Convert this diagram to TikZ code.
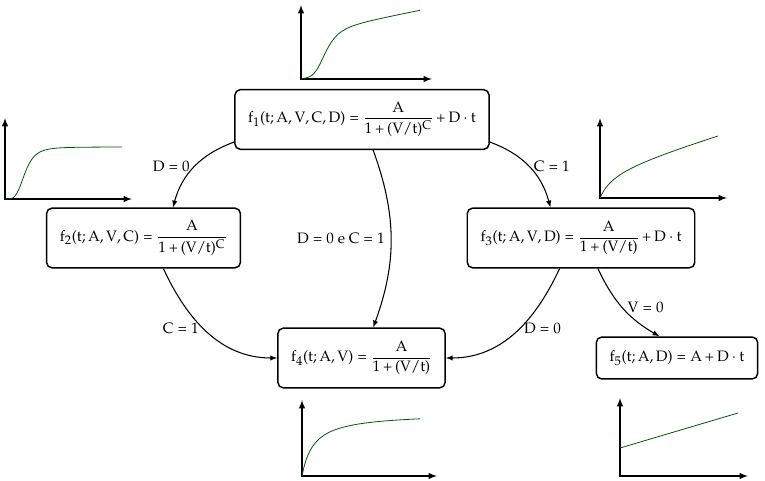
\documentclass[tikz,border=0pt]{standalone}
\usepackage[T1]{fontenc}
\usepackage{amsmath}
\usepackage{mathpazo}
\usepackage{mathastext}
\usetikzlibrary{arrows}

\begin{document}
\begin{tikzpicture}[x=0.0265cm, y=0.0265cm,
    font=\fontsize{11.4}{14}\selectfont,
    box/.style={
    % The shape:
    rectangle, rounded corners=4pt,
    minimum height=1.58cm, inner xsep=10pt,
    % The rest
    line width=1.1pt, draw=black, fill=white},
    edge/.style={->, >=latex, thick},
    axis/.style={<->, >=latex, very thick},
    curve/.style={draw=green!35!black, semithick}]
  \useasboundingbox (0,0) rectangle (765,480);
  % the five models
  \node (f1) [box] at (362,360.5) {$f_1(t;A,V,C,D)=\dfrac{A}{1+(V/t)^C}+D\cdot t$};
  \node (f2) [box] at (143.5,242) {$f_2(t;A,V,C)=\dfrac{A}{1+(V/t)^C}$};
  \node (f3) [box] at (581,242) {$f_3(t;A,V,D)=\dfrac{A}{1+(V/t)}+D\cdot t$};
  \node (f4) [box] at (361.5,122) {$f_4(t;A,V)=\dfrac{A}{1+(V/t)}$};
  \node (f5) [box,minimum height=1.11cm] at (677,122) {$f_5(t;A,D)=A+D\cdot t$};
  % the reductions
  \draw[edge] (f1.190) to[out=200,in=75] node[pos=.5,left] {$D=0$} (f2.46);
  \draw[edge] (f1.350) to[out=-20,in=105] node[pos=.5,right] {$C=1$} (f3.135);
  \draw[edge] (f1.290) to[out=-70,in=70] node[pos=.5,left=1pt] {$D=0$ e $C=1$} (f4.69);
  \draw[edge] (f2.303) to[out=-65,in=180] node[pos=.46,left] {$C=1$} (f4.west);
  \draw[edge] (f3.235) to[out=-115,in=0] node[pos=.46,right] {$D=0$} (f4.east);
  \draw[edge] (f3.299) to[out=-65,in=150] node[pos=.5,right] {$V=0$} (f5.129);
  % sketches of the curves
  \begin{scope}[shift={(301,401)}]
    \draw[axis] (0,74) -- (0,0) -- (131,0);
    \draw[curve] plot[domain=0:4.76,samples=80] ({25*\x},{45*(\x^4/(1+\x^4))+5*\x});
  \end{scope}
  \begin{scope}[shift={(5,281)}]
    \draw[axis] (0,81) -- (0,0) -- (127,0);
    \draw[curve] plot[domain=0:5.85,samples=80] ({20*\x},{52*(\x^4/(1+\x^4))});
  \end{scope}
  \begin{scope}[shift={(600,282)}]
    \draw[axis] (0,80) -- (0,0) -- (127,0);
    \draw[curve] plot[domain=0:118,samples=80] (\x,{30*\x/(15+\x)+0.3*\x});
  \end{scope}
  \begin{scope}[shift={(302,4)}]
    \draw[axis] (0,76) -- (0,0) -- (135,0);
    \draw[curve] plot[domain=0:118,samples=80] (\x,{63*\x/(12+\x)});
  \end{scope}
  \begin{scope}[shift={(620,4)}]
    \draw[axis] (0,78) -- (0,0) -- (128,0);
    \draw[curve] (0,28) -- (118,63);
  \end{scope}
\end{tikzpicture}
\end{document}
